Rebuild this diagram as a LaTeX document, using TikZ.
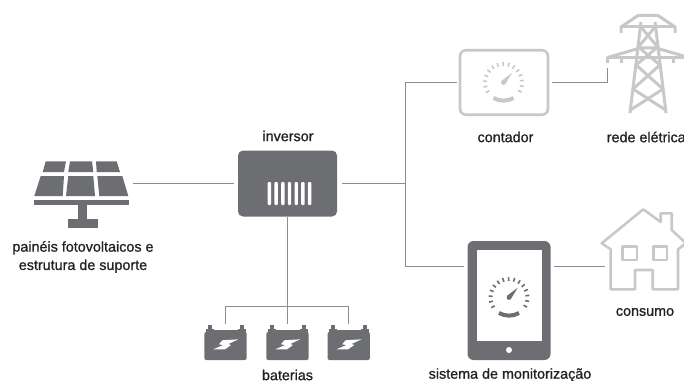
\documentclass[tikz,border=0pt]{standalone}
\usepackage{fontspec}
\setmainfont[FakeBold=1]{Liberation Sans}
\usepackage{tikz}
\usetikzlibrary{positioning}
\definecolor{mdark}{HTML}{6D6E71}
\definecolor{mlight}{HTML}{C7C8CA}
\definecolor{mline}{HTML}{8C8D8F}
\definecolor{mtext}{HTML}{222222}
\def\px{0.025cm}
\tikzset{linha/.style = {draw=mline, line width=1*\px},
         vazio/.style = {inner sep=0, outer sep=0},
         contorno/.style = {draw=mlight, line width=2.6*\px, line join=round},
         torre/.style = {draw=mlight, line width=3*\px, line join=round},
         legenda/.style = {inner sep=0, text=mtext, font=\fontsize{10.2pt}{13pt}\selectfont, align=center},
         bateria/.style = {vazio, fill=mdark, rounded corners=2*\px, minimum width=42.4*\px, minimum height=28*\px}}
% dial: centre x, centre y, colour
\newcommand{\mostrador}[3]{
    \foreach \ang in {150, 167, ..., 390}
        \draw [#3, line width=1.6*\px] (#1, #2) ++(\ang:16.5) -- ++(\ang:4);
    \draw [#3, line width=4*\px] (#1, #2) ++(-10, 15.5) .. controls +(6, 3.5) and +(-6, 3.5) .. +(20, 0);
    \fill [#3] (#1, #2) circle (2.4);
    \fill [#3] (#1, #2) ++(-1.8, -1.8) -- ++(10.5, -8) -- ++(-7, 11.5) -- cycle;
}

\begin{document}
\begin{tikzpicture}[x=\px, y=-\px]
    \clip (0, 0) rectangle (684, 381);

    % nodes
    \node [vazio, minimum width=99*\px, minimum height=67*\px] (painel) at (83.5, 194.5) {};
    \node [vazio, fill=mdark, rounded corners=5*\px, minimum width=99*\px, minimum height=66*\px] (inversor) at (287.5, 183.5) {};
    \node [vazio, contorno, rounded corners=6*\px, minimum width=88*\px, minimum height=64.5*\px] (contador) at (504, 82.5) {};
    \node [vazio, fill=mdark, rounded corners=6*\px, minimum width=83*\px, minimum height=119*\px] (tablet) at (509, 300.5) {};
    \node [vazio, minimum width=80*\px, minimum height=20*\px] (casa) at (645, 266.7) {};
    \foreach \i/\bx in {1/225.5, 2/287.5, 3/348.7}
        \node [bateria] (bateria\i) at (\bx, 346) {};
    \coordinate (juncao) at (405, 183.5);
    \coordinate (ramal) at (287.5, 306.7);
    \coordinate (braco) at (607.7, 68);

    % connectors
    \draw [linha, shorten >=4.5*\px] (painel.east |- inversor.west) -- (inversor.west);
    \draw [linha, shorten <=5*\px] (inversor.east) -- (juncao);
    \draw [linha, shorten >=3.5*\px] (juncao) |- (contador.west);
    \draw [linha, shorten >=3.5*\px] (juncao) |- (tablet.west |- casa.west);
    \draw [linha, shorten <=3.5*\px] (tablet.east |- casa.west) -- (casa.west);
    \draw [linha, shorten <=4*\px] (contador.east) -| (braco);
    \draw [linha, shorten >=8*\px] (inversor.south) -- (bateria2.north);
    \draw [linha, shorten <=8*\px] (bateria1.north) |- (ramal);
    \draw [linha, shorten <=8*\px] (bateria3.north) |- (ramal);

    % solar panel
    \fill [mdark] (45.7, 161.3) -- (66, 161.3) -- (64, 172) -- (42.7, 172) -- cycle;
    \fill [mdark] (70, 161.3) -- (92, 161.3) -- (93.3, 172) -- (68.3, 172) -- cycle;
    \fill [mdark] (96, 161.3) -- (116.7, 161.3) -- (120, 172) -- (96.7, 172) -- cycle;
    \fill [mdark] (40.7, 176) -- (64, 176) -- (62.7, 196) -- (34.3, 196) -- cycle;
    \fill [mdark] (68.3, 176) -- (93.3, 176) -- (95, 196) -- (66, 196) -- cycle;
    \fill [mdark] (97.3, 176) -- (122.3, 176) -- (128.3, 196) -- (99.3, 196) -- cycle;
    \fill [mdark] (34, 199.5) rectangle (128.5, 204.5);
    \fill [mdark] (78, 204) rectangle (87, 220);
    \fill [mdark] (68, 219) rectangle (98, 228);

    % inverter vents
    \foreach \i in {0, ..., 6}
        \fill [white, rounded corners=1*\px] (267.7+6.7*\i, 182) rectangle ++(3.4, 23);

    % batteries
    \foreach \bx in {225.5, 287.5, 348.7} {
        \fill [mdark] (\bx-12, 329.5) rectangle (\bx+12, 334);
        \foreach \sgn in {-1, 1} {
            \fill [mdark] (\bx+\sgn*16-4, 329) rectangle (\bx+\sgn*16+4, 333);
            \fill [mdark] (\bx+\sgn*16-2, 325) rectangle (\bx+\sgn*16+2, 330);
        }
        \fill [white] (\bx-3.2, 340.3) -- (\bx+12.8, 339.3) -- (\bx+2.8, 344) -- (\bx+5.5, 345) -- (\bx-0.5, 349.3)
            -- (\bx-12.2, 349.3) -- (\bx-2.2, 345) -- (\bx-6.5, 344.3) -- cycle;
    }

    % meter
    \mostrador{503.5}{82.5}{mlight}

    % tablet
    \fill [white] (476.7, 250) rectangle (541.7, 340.7);
    \fill [white] (509, 350) circle (3);
    \mostrador{509}{297.5}{mdark}

    % pylon
    \foreach \la/\ya/\lb/\yb in {641/27/638.4/47, 638.4/47/636.1/65, 636.1/65/633/89, 633/89/630.4/110} {
        \draw [torre] (\la, \ya) -- (1296-\lb, \yb);
        \draw [torre] (1296-\la, \ya) -- (\lb, \yb);
    }
    \draw [torre] (630, 113) -- (641, 22);
    \draw [torre] (666, 113) -- (655, 22);
    \draw [torre] (621, 33) -- (621, 27) -- (638, 15.5) -- (658, 15.5) -- (675, 27) -- (675, 33);
    \draw [torre] (621, 27) -- (675, 27);
    \draw [torre] (607.7, 63) -- (607.7, 57.5) -- (640, 48) -- (656, 48) -- (689, 57.5);
    \draw [torre] (607.7, 57.5) -- (689, 57.5);
    \draw [torre] (621, 57.5) -- (621, 63);
    \draw [torre] (673.5, 57.5) -- (673.5, 63);

    % house
    \draw [contorno] (610.7, 249.3) -- (601.7, 243.3) -- (643.3, 209.3) -- (660.7, 222) -- (660.7, 213.3) -- (671.7, 213.3)
        -- (671.7, 230) -- (686, 243.3) -- (678, 249.3) -- (678, 289.3) -- (652.7, 289.3) -- (652.7, 270) -- (635, 270)
        -- (635, 289.3) -- (610.7, 289.3) -- cycle;
    \draw [contorno] (622.7, 246.7) rectangle (637, 260);
    \draw [contorno] (653.3, 246.7) rectangle (667, 260);

    % labels
    \node [legenda] (lbl inversor) at (288, 136) {inversor};
    \node [legenda] (lbl contador) at (505.5, 137) {contador};
    \node [legenda, anchor=west] (lbl rede) at (606.5, 137) {rede elétrica};
    \node [legenda] (lbl consumo) at (645, 312) {consumo};
    \node [legenda] (lbl sistema) at (510, 375) {sistema de monitorização};
    \node [legenda] (lbl baterias) at (287.5, 375) {baterias};
    \node [legenda] (lbl painel) at (83, 257) {painéis fotovoltaicos e\\estrutura de suporte};
\end{tikzpicture}
\end{document}
